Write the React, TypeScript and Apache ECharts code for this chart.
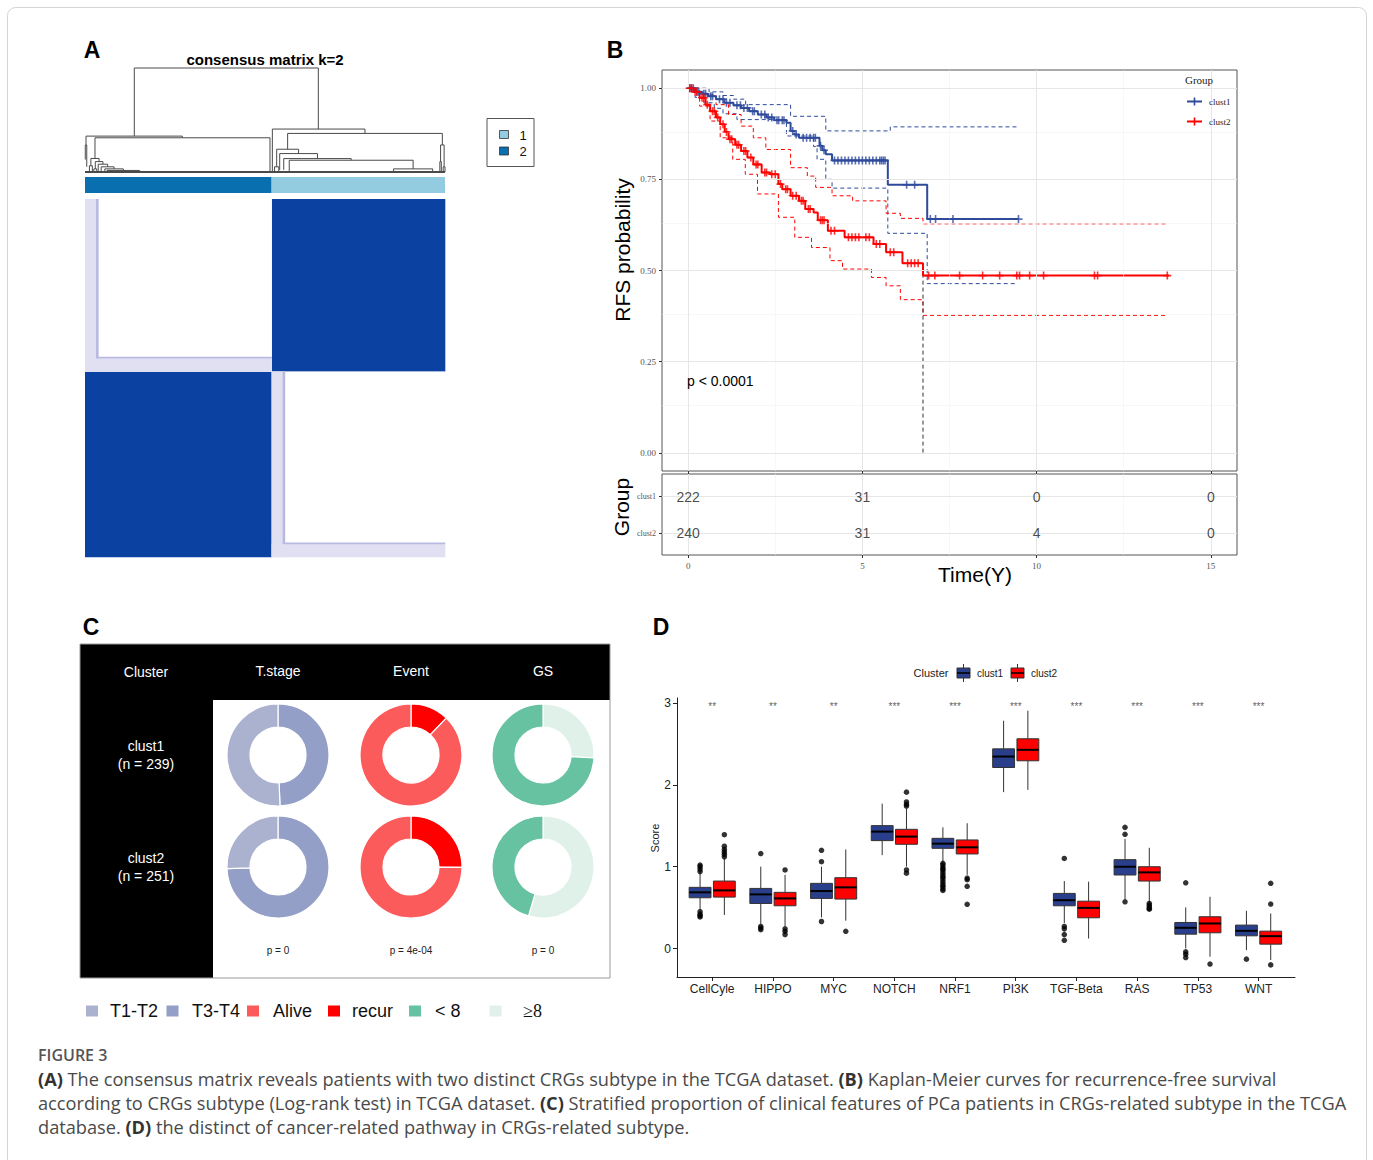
import React, { useEffect, useRef } from "react";
import * as echarts from "echarts";

const SANS = "'Liberation Sans', Arial, sans-serif";
const SERIF = "'Liberation Serif', 'Times New Roman', serif";
const CAPTION_FONT = "'Open Sans', 'Noto Sans', sans-serif";

// ================= Panel A : consensus matrix =================
const sampleCount = 490;
// dendrogram merges: [xLeft, xRight, mergeHeight, leftChildHeight, rightChildHeight]
const dendroNodes: number[][] = [
  [67.1, 317.6, 1.0, 0.345, 0.413],
  [1.4, 132.5, 0.345, 0.26, 0.329],
  [0.4, 2.4, 0.26, 0.12, 0.05],
  [13.6, 251.8, 0.329, 0.13, 0],
  [8, 19.2, 0.13, 0.06, 0.1],
  [6, 10, 0.06, 0, 0],
  [14, 24.4, 0.1, 0.03, 0.075],
  [12, 16, 0.03, 0, 0],
  [18, 30.8, 0.075, 0, 0.05],
  [22, 39.6, 0.05, 0, 0.03],
  [27, 52.2, 0.03, 0, 0.015],
  [30, 74.4, 0.015, 0, 0],
  [255, 381.1, 0.413, 0, 0.371],
  [275.8, 486.4, 0.371, 0.219, 0.26],
  [260.9, 290.7, 0.219, 0.05, 0.177],
  [258, 263.8, 0.05, 0, 0],
  [265, 316.4, 0.177, 0.02, 0.129],
  [270.5, 362.3, 0.129, 0.02, 0.113],
  [278, 446.6, 0.113, 0.01, 0.03],
  [420, 473.2, 0.03, 0, 0.01],
  [484, 488.8, 0.26, 0.1, 0.05],
  [483, 485, 0.1, 0, 0],
  [487.5, 490, 0.05, 0, 0],
  [0, 490, 0, 0, 0],
];
// annotation bar: [fromSample, toSample, cluster]
const annotationBlocks: number[][] = [
  [0, 254, 2],
  [254, 490, 1],
];
const clusterColors: Record<number, string> = { 1: "#93CBE0", 2: "#0A6FAE" };
const clusterLegend = ["1", "2"];
// consensus blocks: [colFrom, colTo, rowFrom, rowTo, level]
const consensusBlocks: number[][] = [
  [0, 254, 0, 254, 3],
  [254, 490, 254, 490, 3],
  [0, 254, 254, 490, 0],
  [254, 490, 0, 254, 0],
  [0, 18, 254, 490, 1],
  [0, 254, 254, 272, 1],
  [254, 272, 0, 254, 1],
  [254, 490, 0, 18, 1],
  [15, 18, 272, 490, 2],
  [18, 254, 272, 274, 2],
  [269, 272, 18, 254, 2],
  [272, 490, 18, 20, 2],
];
const consensusColors = ["#FFFFFF", "#E0E0F2", "#B9B9E2", "#0B41A0"];

// ================= Panel B : Kaplan-Meier =================
const kmClust1: number[][] = [
  [0, 1], [0.2, 0.99], [0.4, 0.985], [0.57, 0.978], [0.8, 0.97], [1.04, 0.96], [1.3, 0.953],
  [1.52, 0.946], [1.75, 0.937], [2.0, 0.928], [2.25, 0.92], [2.47, 0.912], [2.82, 0.905],
  [2.94, 0.883], [3.05, 0.873], [3.18, 0.864], [3.77, 0.842], [3.85, 0.83], [3.95, 0.819],
  [4.13, 0.802], [5.73, 0.735], [6.86, 0.641], [9.48, 0.641],
];
const kmClust2: number[][] = [
  [0, 1], [0.15, 0.99], [0.33, 0.974], [0.5, 0.955], [0.63, 0.937], [0.8, 0.92], [0.92, 0.901],
  [1.05, 0.88], [1.16, 0.86], [1.35, 0.845], [1.52, 0.828], [1.7, 0.81], [1.87, 0.791],
  [2.11, 0.769], [2.35, 0.764], [2.59, 0.737], [2.7, 0.723], [2.94, 0.705], [3.18, 0.691],
  [3.36, 0.669], [3.6, 0.659], [3.72, 0.638], [4.01, 0.609], [4.49, 0.591], [5.32, 0.573],
  [5.68, 0.55], [6.15, 0.52], [6.74, 0.486], [13.8, 0.486],
];
const ciClust1Upper: number[][] = [
  [0, 1], [0.6, 0.99], [1.0, 0.98], [1.3, 0.97], [1.65, 0.955], [2.94, 0.923], [3.95, 0.883],
  [5.8, 0.894], [9.48, 0.894],
];
const ciClust1Lower: number[][] = [
  [0, 1], [0.2, 0.975], [0.45, 0.96], [0.75, 0.945], [1.0, 0.93], [1.4, 0.914], [2.82, 0.869],
  [3.6, 0.84], [3.7, 0.805], [3.95, 0.75], [4.13, 0.726], [5.73, 0.602], [6.86, 0.464], [9.42, 0.464],
];
const ciClust2Upper: number[][] = [
  [0, 1], [0.33, 0.982], [0.8, 0.955], [1.16, 0.928], [1.52, 0.896], [1.87, 0.864], [2.23, 0.832],
  [2.94, 0.782], [3.42, 0.759], [3.66, 0.728], [4.13, 0.705], [4.72, 0.691], [5.68, 0.657],
  [6.09, 0.643], [6.74, 0.628], [13.76, 0.628],
];
const ciClust2Lower: number[][] = [
  [0, 1], [0.33, 0.951], [0.63, 0.91], [0.92, 0.864], [1.28, 0.805], [1.64, 0.764], [1.99, 0.71],
  [2.59, 0.646], [3.06, 0.591], [3.54, 0.563], [4.07, 0.527], [4.43, 0.504], [5.26, 0.481],
  [5.68, 0.458], [6.09, 0.42], [6.74, 0.377], [13.76, 0.377],
];
const censorClust1 = [
  0.05, 0.1, 0.15, 0.25, 0.3, 0.45, 0.5, 0.65, 0.7, 0.9, 1.0, 1.1, 1.2, 1.4, 1.5, 1.6, 1.7, 1.85,
  1.9, 2.1, 2.2, 2.3, 2.4, 2.55, 2.6, 2.7, 2.75, 3.0, 3.1, 3.3, 3.4, 3.5, 3.6, 3.65, 3.8, 3.9,
  4.2, 4.3, 4.4, 4.5, 4.6, 4.7, 4.8, 4.9, 5.0, 5.1, 5.2, 5.3, 5.4, 5.5, 5.55, 5.6, 5.65, 6.27,
  6.5, 6.95, 7.1, 7.6, 9.48,
];
const censorClust2 = [
  0.05, 0.1, 0.2, 0.25, 0.4, 0.45, 0.55, 0.7, 0.75, 0.85, 1.0, 1.1, 1.2, 1.25, 1.4, 1.45, 1.6,
  1.65, 1.8, 1.95, 2.0, 2.2, 2.25, 2.4, 2.5, 2.65, 2.8, 2.85, 3.0, 3.1, 3.25, 3.3, 3.45, 3.5,
  3.8, 3.85, 3.9, 4.1, 4.2, 4.6, 4.7, 4.8, 4.9, 5.1, 5.2, 5.4, 5.5, 5.8, 5.9, 6.3, 6.4, 6.5,
  6.6, 6.9, 7.08, 7.79, 8.45, 8.94, 9.43, 9.51, 9.8, 10.2, 11.66, 11.75, 13.75,
];
const medianSurvivalTime = 6.74;
const riskTimes = [0, 5, 10, 15];
const riskClust1 = [222, 31, 0, 0];
const riskClust2 = [240, 31, 4, 0];
const kmXTicks = [0, 5, 10, 15];
const kmXMinor = [2.5, 7.5, 12.5];
const kmYTicks = [0, 0.25, 0.5, 0.75, 1];
const kmYMinor = [0.125, 0.375, 0.625, 0.875];
const riskRows = [1, 2];
const riskRowNames: Record<number, string> = { 1: "clust2", 2: "clust1" };

// ================= Panel C : donuts =================
const donutColumns = ["T.stage", "Event", "GS"];
const donutRowLabels = ["clust1\n(n = 239)", "clust2\n(n = 251)"];
const tStageLevels = ["T3-T4", "T1-T2"];
const tStageClust1 = [118, 121];
const tStageClust2 = [187, 64];
const eventLevels = ["recur", "Alive"];
const eventClust1 = [29, 210];
const eventClust2 = [63, 188];
const gsLevels = ["≥8", "< 8"];
const gsClust1 = [62, 177];
const gsClust2 = [137, 114];
const levelColors: Record<string, string> = {
  "T1-T2": "#ABB2D0",
  "T3-T4": "#939FC6",
  Alive: "#FC5B5B",
  recur: "#FF0000",
  "< 8": "#66C2A0",
  "≥8": "#E0F1EA",
};
const donutPValues = ["p = 0", "p = 4e-04", "p = 0"];
const legendCLabels = ["T1-T2", "T3-T4", "Alive", "recur", "< 8", "≥8"];

// ================= Panel D : boxplots =================
const pathways = ["CellCyle", "HIPPO", "MYC", "NOTCH", "NRF1", "PI3K", "TGF-Beta", "RAS", "TP53", "WNT"];
const significance = ["**", "**", "**", "***", "***", "***", "***", "***", "***", "***"];
// [lowerWhisker, Q1, median, Q3, upperWhisker]
const boxClust1: number[][] = [
  [0.47, 0.62, 0.686, 0.747, 0.93],
  [0.3, 0.55, 0.661, 0.734, 1.0],
  [0.38, 0.612, 0.702, 0.796, 1.0],
  [1.14, 1.318, 1.428, 1.501, 1.77],
  [1.06, 1.224, 1.281, 1.346, 1.48],
  [1.91, 2.211, 2.345, 2.439, 2.782],
  [0.31, 0.522, 0.59, 0.673, 0.824],
  [0.6, 0.898, 0.999, 1.085, 1.338],
  [0.0, 0.175, 0.253, 0.318, 0.502],
  [-0.02, 0.155, 0.216, 0.286, 0.461],
];
const boxClust2: number[][] = [
  [0.41, 0.628, 0.71, 0.824, 1.1],
  [0.27, 0.522, 0.612, 0.686, 0.9],
  [0.34, 0.604, 0.747, 0.865, 1.21],
  [1.0, 1.273, 1.367, 1.456, 1.71],
  [0.9, 1.155, 1.236, 1.326, 1.53],
  [1.938, 2.293, 2.427, 2.562, 2.905],
  [0.122, 0.375, 0.496, 0.578, 0.816],
  [0.57, 0.824, 0.93, 0.999, 1.23],
  [-0.1, 0.192, 0.306, 0.388, 0.632],
  [-0.14, 0.053, 0.151, 0.212, 0.428],
];
const outliersClust1: number[][] = [
  [0.94, 0.97, 1.0, 1.02, 0.45, 0.42, 0.4, 0.385],
  [1.16, 0.27, 0.25, 0.23],
  [1.06, 1.2, 0.33],
  [],
  [1.04, 1.02, 0.99, 0.97, 0.95, 0.92, 0.89, 0.87, 0.84, 0.81, 0.78, 0.76, 0.73, 0.71],
  [],
  [1.1, 0.27, 0.24, 0.17, 0.1],
  [1.48, 1.395, 0.571],
  [0.803, -0.04, -0.07, -0.11],
  [-0.13],
];
const outliersClust2: number[][] = [
  [1.12, 1.15, 1.18, 1.21, 1.25, 1.39],
  [0.96, 0.24, 0.21, 0.17],
  [0.21],
  [1.74, 1.76, 1.79, 1.91, 0.96, 0.92],
  [0.86, 0.84, 0.76, 0.54],
  [],
  [],
  [0.55, 0.53, 0.51, 0.49, 0.48],
  [-0.19],
  [0.543, 0.796, -0.2],
];
const scoreTicks = [0, 1, 2, 3];
const clusterNames = ["clust1", "clust2"];

// ================= styling constants =================
const KM_BLUE = "#2E4A9B";
const KM_RED = "#FF0000";
const BOX_BLUE = "#2A3F8C";
const BOX_RED = "#FF0000";
const DODGE = 0.2;
const BOX_HALF = 0.18;
const PLUS = "path://M4,0h2v4h4v2h-4v4h-2v-4h-4v-2h4z";

function stepAt(curve: number[][], t: number) {
  let s = curve[0][1];
  for (const [ti, si] of curve) {
    if (ti <= t) s = si;
    else break;
  }
  return s;
}

function txt(x: number, y: number, s: string, o: any = {}) {
  const align = o.align ?? "center";
  const valign = o.valign ?? "middle";
  return {
    type: "text",
    x,
    y,
    z: 50,
    rotation: o.rotation ?? 0,
    silent: true,
    style: {
      text: s,
      fill: o.color ?? "#000",
      fontSize: o.size ?? 12,
      fontFamily: o.font ?? SANS,
      fontWeight: o.weight ?? "normal",
      align,
      verticalAlign: valign,
      textAlign: align,
      textVerticalAlign: valign,
      lineHeight: o.lineHeight,
      rich: o.rich,
    },
  };
}

function buildOption() {
  const noAxis = { show: false };
  const valAxis = (gridIndex: number, min: number, max: number, extra: any = {}) => ({
    type: "value",
    gridIndex,
    min,
    max,
    splitLine: { show: false },
    axisLine: { show: false, onZero: false },
    axisTick: { show: false },
    axisLabel: { show: false },
    ...extra,
  });

  const grid = [
    { left: 85, top: 68, width: 360, height: 104 },
    { left: 85, top: 177, width: 360, height: 16 },
    { left: 85, top: 199, width: 360, height: 358 },
    { left: 662, top: 70, width: 575, height: 401, show: true, borderColor: "#555", borderWidth: 1, backgroundColor: "transparent" },
    { left: 662, top: 474, width: 575, height: 81, show: true, borderColor: "#555", borderWidth: 1, backgroundColor: "transparent" },
    { left: 677, top: 698, width: 618, height: 279 },
  ].map((g) => ({ ...g, containLabel: false, outerBoundsMode: "none" }));

  const pathIdx = pathways.map((_, i) => i);

  const xAxis = [
    { ...valAxis(0, 0, sampleCount), ...noAxis },
    { ...valAxis(1, 0, sampleCount), ...noAxis },
    { ...valAxis(2, 0, sampleCount), ...noAxis },
    valAxis(3, -0.75, 15.75, {
      axisTick: { show: true, customValues: kmXTicks, length: 3, lineStyle: { color: "#333" } },
    }),
    valAxis(4, -0.75, 15.75, {
      axisTick: { show: true, customValues: kmXTicks, length: 3, lineStyle: { color: "#333" } },
      axisLabel: { show: true, customValues: kmXTicks, fontFamily: SERIF, fontSize: 9, color: "#555", margin: 6 },
    }),
    valAxis(5, -0.58, 9.6, {
      axisLine: { show: true, onZero: false, lineStyle: { color: "#222", width: 1 } },
      axisTick: { show: true, customValues: pathIdx, length: 4, lineStyle: { color: "#222" } },
      axisLabel: {
        show: true,
        customValues: pathIdx,
        formatter: (v: number) => pathways[Math.round(v)] ?? "",
        fontFamily: SANS,
        fontSize: 12,
        color: "#222",
        margin: 6,
      },
    }),
  ];

  const yAxis = [
    { ...valAxis(0, 0, 1), ...noAxis },
    { ...valAxis(1, 0, 1), ...noAxis },
    { ...valAxis(2, 0, sampleCount), ...noAxis },
    valAxis(3, -0.05, 1.05, {
      axisTick: { show: true, customValues: kmYTicks, length: 3, lineStyle: { color: "#333" } },
      axisLabel: {
        show: true,
        customValues: kmYTicks,
        formatter: (v: number) => v.toFixed(2),
        fontFamily: SERIF,
        fontSize: 9,
        color: "#555",
        margin: 6,
      },
    }),
    valAxis(4, 0.41, 2.62, {
      axisTick: { show: true, customValues: riskRows, length: 3, lineStyle: { color: "#333" } },
      axisLabel: {
        show: true,
        customValues: riskRows,
        formatter: (v: number) => riskRowNames[Math.round(v)] ?? "",
        fontFamily: SERIF,
        fontSize: 8,
        color: "#555",
        margin: 6,
      },
    }),
    valAxis(5, -0.348, 3.06, {
      axisLine: { show: true, onZero: false, lineStyle: { color: "#222", width: 1 } },
      axisTick: { show: true, customValues: scoreTicks, length: 4, lineStyle: { color: "#222" } },
      axisLabel: { show: true, customValues: scoreTicks, fontFamily: SANS, fontSize: 12, color: "#222", margin: 6 },
    }),
  ];

  const series: any[] = [];

  // ---- Panel A ----
  series.push({
    type: "custom",
    xAxisIndex: 0,
    yAxisIndex: 0,
    silent: true,
    clip: false,
    data: dendroNodes,
    renderItem: (_p: any, api: any) => {
      const xl = api.value(0), xr = api.value(1), h = api.value(2), hl = api.value(3), hr = api.value(4);
      const pts = [api.coord([xl, hl]), api.coord([xl, h]), api.coord([xr, h]), api.coord([xr, hr])];
      return {
        type: "polyline",
        shape: { points: pts },
        style: { stroke: "#4a4a4a", lineWidth: h === 0 ? 2 : 1, fill: "none" },
      };
    },
  });
  series.push({
    type: "custom",
    xAxisIndex: 1,
    yAxisIndex: 1,
    silent: true,
    data: annotationBlocks,
    renderItem: (_p: any, api: any) => {
      const a = api.coord([api.value(0), 1]);
      const b = api.coord([api.value(1), 0]);
      return {
        type: "rect",
        shape: { x: a[0], y: a[1], width: b[0] - a[0], height: b[1] - a[1] },
        style: { fill: clusterColors[api.value(2)] },
      };
    },
  });
  series.push({
    type: "custom",
    xAxisIndex: 2,
    yAxisIndex: 2,
    silent: true,
    data: consensusBlocks,
    renderItem: (_p: any, api: any) => {
      const a = api.coord([api.value(0), api.value(3)]);
      const b = api.coord([api.value(1), api.value(2)]);
      return {
        type: "rect",
        shape: { x: a[0], y: a[1], width: b[0] - a[0] + 0.3, height: b[1] - a[1] + 0.3 },
        style: { fill: consensusColors[api.value(4)] },
      };
    },
  });

  // ---- Panel B: gridlines ----
  const major = { color: "#E6E6E6", width: 1, type: "solid" };
  const minor = { color: "#F2F2F2", width: 0.6, type: "solid" };
  series.push({
    type: "line",
    xAxisIndex: 3,
    yAxisIndex: 3,
    data: [[0, 2]],
    symbol: "none",
    lineStyle: { opacity: 0 },
    silent: true,
    z: 1,
    markLine: {
      silent: true,
      symbol: ["none", "none"],
      label: { show: false },
      animation: false,
      data: [
        ...kmXMinor.map((v) => ({ xAxis: v, lineStyle: minor })),
        ...kmYMinor.map((v) => ({ yAxis: v, lineStyle: minor })),
        ...kmXTicks.map((v) => ({ xAxis: v, lineStyle: major })),
        ...kmYTicks.map((v) => ({ yAxis: v, lineStyle: major })),
      ],
    },
  });
  series.push({
    type: "line",
    xAxisIndex: 4,
    yAxisIndex: 4,
    data: [[0, 5]],
    symbol: "none",
    lineStyle: { opacity: 0 },
    silent: true,
    z: 1,
    markLine: {
      silent: true,
      symbol: ["none", "none"],
      label: { show: false },
      animation: false,
      data: [
        ...kmXMinor.map((v) => ({ xAxis: v, lineStyle: minor })),
        ...kmXTicks.map((v) => ({ xAxis: v, lineStyle: major })),
        ...riskRows.map((v) => ({ yAxis: v, lineStyle: major })),
      ],
    },
  });

  const ciLine = (data: number[][], color: string) => ({
    type: "line",
    xAxisIndex: 3,
    yAxisIndex: 3,
    step: "end",
    symbol: "none",
    silent: true,
    data,
    lineStyle: { color, width: 1, type: [4, 3] },
    z: 3,
  });
  series.push(ciLine(ciClust1Upper, KM_BLUE));
  series.push(ciLine(ciClust1Lower, KM_BLUE));
  series.push(ciLine(ciClust2Upper, KM_RED));
  series.push(ciLine(ciClust2Lower, KM_RED));
  series.push({
    type: "line",
    xAxisIndex: 3,
    yAxisIndex: 3,
    symbol: "none",
    silent: true,
    data: [
      [0, 0.5],
      [medianSurvivalTime, 0.5],
      [medianSurvivalTime, 0],
    ],
    lineStyle: { color: "#333", width: 1, type: [4, 3] },
    z: 3,
  });
  const kmLine = (data: number[][], color: string) => ({
    type: "line",
    xAxisIndex: 3,
    yAxisIndex: 3,
    step: "end",
    symbol: "none",
    silent: true,
    data,
    lineStyle: { color, width: 2 },
    z: 4,
  });
  series.push(kmLine(kmClust1, KM_BLUE));
  series.push(kmLine(kmClust2, KM_RED));
  const censor = (times: number[], curve: number[][], color: string) => ({
    type: "scatter",
    xAxisIndex: 3,
    yAxisIndex: 3,
    silent: true,
    symbol: PLUS,
    symbolSize: 8,
    itemStyle: { color },
    data: times.map((t) => [t, stepAt(curve, t)]),
    z: 5,
  });
  series.push(censor(censorClust1, kmClust1, KM_BLUE));
  series.push(censor(censorClust2, kmClust2, KM_RED));

  const riskData: any[] = [];
  riskTimes.forEach((t, i) => {
    riskData.push([t, 2, riskClust1[i]]);
    riskData.push([t, 1, riskClust2[i]]);
  });
  series.push({
    type: "scatter",
    xAxisIndex: 4,
    yAxisIndex: 4,
    silent: true,
    symbolSize: 1,
    itemStyle: { color: "rgba(0,0,0,0)" },
    data: riskData,
    label: {
      show: true,
      position: "inside",
      formatter: (p: any) => String(p.value[2]),
      fontFamily: SANS,
      fontSize: 14,
      color: "#1a1a1a",
    },
    z: 5,
  });

  // ---- Panel D ----
  const boxSeries = (boxes: number[][], offset: number, color: string) => ({
    type: "custom",
    xAxisIndex: 5,
    yAxisIndex: 5,
    silent: true,
    data: boxes.map((b, i) => [i, ...b]),
    renderItem: (_p: any, api: any) => {
      const cx = api.value(0) + offset;
      const lo = api.value(1), q1 = api.value(2), md = api.value(3), q3 = api.value(4), hi = api.value(5);
      const tl = api.coord([cx - BOX_HALF, q3]);
      const br = api.coord([cx + BOX_HALF, q1]);
      const pLo = api.coord([cx, lo]);
      const pQ1 = api.coord([cx, q1]);
      const pQ3 = api.coord([cx, q3]);
      const pHi = api.coord([cx, hi]);
      const mL = api.coord([cx - BOX_HALF, md]);
      const mR = api.coord([cx + BOX_HALF, md]);
      const ws = { stroke: "#333", lineWidth: 1 };
      return {
        type: "group",
        children: [
          { type: "line", shape: { x1: pLo[0], y1: pLo[1], x2: pQ1[0], y2: pQ1[1] }, style: ws },
          { type: "line", shape: { x1: pQ3[0], y1: pQ3[1], x2: pHi[0], y2: pHi[1] }, style: ws },
          {
            type: "rect",
            shape: { x: tl[0], y: tl[1], width: br[0] - tl[0], height: br[1] - tl[1] },
            style: { fill: color, stroke: "#333", lineWidth: 1 },
          },
          { type: "line", shape: { x1: mL[0], y1: mL[1], x2: mR[0], y2: mR[1] }, style: { stroke: "#000", lineWidth: 2 } },
        ],
      };
    },
    z: 3,
  });
  series.push(boxSeries(boxClust1, -DODGE, BOX_BLUE));
  series.push(boxSeries(boxClust2, DODGE, BOX_RED));
  const outlierSeries = (out: number[][], offset: number) => {
    const data: number[][] = [];
    out.forEach((vals, i) => vals.forEach((v) => data.push([i + offset, v])));
    return {
      type: "scatter",
      xAxisIndex: 5,
      yAxisIndex: 5,
      silent: true,
      symbolSize: 5.5,
      itemStyle: { color: "#000" },
      data,
      z: 4,
    };
  };
  series.push(outlierSeries(outliersClust1, -DODGE));
  series.push(outlierSeries(outliersClust2, DODGE));
  series.push({
    type: "scatter",
    xAxisIndex: 5,
    yAxisIndex: 5,
    silent: true,
    symbolSize: 1,
    itemStyle: { color: "rgba(0,0,0,0)" },
    data: significance.map((s, i) => [i, 2.96, s]),
    label: {
      show: true,
      position: "inside",
      formatter: (p: any) => p.value[2],
      fontFamily: SANS,
      fontSize: 10,
      color: "#333",
    },
  });

  // ---- Panel C donuts ----
  const colX = [278, 411, 543];
  const rowY = [755, 867];
  const donutSets = [
    [tStageLevels, tStageClust1, tStageClust2],
    [eventLevels, eventClust1, eventClust2],
    [gsLevels, gsClust1, gsClust2],
  ] as any[];
  donutSets.forEach((set, c) => {
    const levels: string[] = set[0];
    [set[1], set[2]].forEach((vals: number[], r: number) => {
      series.push({
        type: "pie",
        center: [colX[c], rowY[r]],
        radius: [28, 51],
        startAngle: 90,
        clockwise: true,
        silent: true,
        label: { show: false },
        labelLine: { show: false },
        itemStyle: { borderColor: "#fff", borderWidth: 1.2 },
        data: levels.map((l, k) => ({ name: l, value: vals[k], itemStyle: { color: levelColors[l] } })),
        z: 5,
      });
    });
  });

  // ---- graphics ----
  const g: any[] = [];
  g.push({
    type: "rect",
    z: 0,
    silent: true,
    shape: { x: 7.5, y: 7.5, width: 1359, height: 1175, r: 8 },
    style: { fill: "none", stroke: "#D4D4D4", lineWidth: 1 },
  });
  g.push(txt(92, 50, "A", { size: 23, weight: "bold" }));
  g.push(txt(615, 50, "B", { size: 23, weight: "bold" }));
  g.push(txt(91, 627, "C", { size: 23, weight: "bold" }));
  g.push(txt(661, 627, "D", { size: 23, weight: "bold" }));

  g.push(txt(265, 59, "consensus matrix k=2", { size: 15, weight: "bold" }));
  g.push({
    type: "rect",
    z: 50,
    silent: true,
    shape: { x: 487, y: 118.5, width: 47, height: 48 },
    style: { fill: "#fff", stroke: "#555", lineWidth: 1 },
  });
  clusterLegend.forEach((lab, i) => {
    g.push({
      type: "rect",
      z: 51,
      silent: true,
      shape: { x: 499.5, y: 130.5 + i * 16.5, width: 9, height: 8 },
      style: { fill: clusterColors[Number(lab)], stroke: "#333", lineWidth: 0.8 },
    });
    g.push(txt(523, 135 + i * 16.5, lab, { size: 13, color: "#111" }));
  });

  g.push(txt(622, 250, "RFS probability", { size: 21, rotation: Math.PI / 2 }));
  g.push(txt(621, 507, "Group", { size: 21, rotation: Math.PI / 2 }));
  g.push(txt(975, 574, "Time(Y)", { size: 21 }));
  g.push(txt(687, 381, "p < 0.0001", { size: 14, align: "left" }));
  g.push(txt(1185, 80, "Group", { size: 11, font: SERIF, align: "left", color: "#222" }));
  [KM_BLUE, KM_RED].forEach((col, i) => {
    const y = 101.5 + i * 20;
    g.push({ type: "line", z: 51, silent: true, shape: { x1: 1187, y1: y, x2: 1202, y2: y }, style: { stroke: col, lineWidth: 2 } });
    g.push({ type: "line", z: 51, silent: true, shape: { x1: 1194.5, y1: y - 4, x2: 1194.5, y2: y + 4 }, style: { stroke: col, lineWidth: 1.6 } });
    g.push(txt(1209, y, clusterNames[i], { size: 9, font: SERIF, align: "left", color: "#222" }));
  });

  g.push({ type: "rect", z: 0, silent: true, shape: { x: 80, y: 644, width: 530, height: 334 }, style: { fill: "#000" } });
  g.push({ type: "rect", z: 0, silent: true, shape: { x: 213, y: 700, width: 397, height: 278 }, style: { fill: "#fff" } });
  g.push({
    type: "rect",
    z: 1,
    silent: true,
    shape: { x: 80, y: 644, width: 530, height: 334 },
    style: { fill: "none", stroke: "#999", lineWidth: 1 },
  });
  g.push(txt(146, 672, "Cluster", { size: 14, color: "#fff" }));
  donutColumns.forEach((c, i) => g.push(txt(colX[i], 671, c, { size: 14, color: "#fff" })));
  donutRowLabels.forEach((r, i) => g.push(txt(146, rowY[i], r, { size: 14, color: "#fff", lineHeight: 18 })));
  donutPValues.forEach((p, i) => g.push(txt(colX[i], 950, p, { size: 10, color: "#222" })));
  const legendX = [86, 166.5, 247, 328, 409, 489.5];
  const legendTextX = [110, 192, 273, 352, 435, 523];
  legendCLabels.forEach((lab, i) => {
    g.push({
      type: "rect",
      z: 50,
      silent: true,
      shape: { x: legendX[i], y: 1005.5, width: 12, height: 11 },
      style: { fill: levelColors[lab] },
    });
    g.push(
      txt(legendTextX[i], 1011, lab, {
        size: 18,
        align: "left",
        color: "#111",
        font: lab === "≥8" ? SERIF : SANS,
      })
    );
  });

  g.push(txt(655, 838, "Score", { size: 11, rotation: Math.PI / 2, color: "#222" }));
  g.push(txt(931, 673, "Cluster", { size: 11, color: "#222" }));
  [BOX_BLUE, BOX_RED].forEach((col, i) => {
    const x0 = 957 + i * 54;
    g.push({ type: "line", z: 51, silent: true, shape: { x1: x0 + 6.5, y1: 664, x2: x0 + 6.5, y2: 682 }, style: { stroke: "#333", lineWidth: 1 } });
    g.push({ type: "rect", z: 52, silent: true, shape: { x: x0, y: 668, width: 13, height: 10 }, style: { fill: col, stroke: "#333", lineWidth: 1 } });
    g.push({ type: "line", z: 53, silent: true, shape: { x1: x0, y1: 673, x2: x0 + 13, y2: 673 }, style: { stroke: "#000", lineWidth: 1.5 } });
    g.push(txt(x0 + 20, 673, clusterNames[i], { size: 10, align: "left", color: "#222" }));
  });

  const capSize = 18.2;
  const rich = { b: { fontWeight: "bold", fontFamily: CAPTION_FONT, fontSize: capSize, fill: "#333" } };
  g.push(txt(38, 1055, "FIGURE 3", { size: 16, align: "left", color: "#555", font: CAPTION_FONT, weight: 600 }));
  const captionLines = [
    "{b|(A)} The consensus matrix reveals patients with two distinct CRGs subtype in the TCGA dataset. {b|(B)} Kaplan-Meier curves for recurrence-free survival",
    "according to CRGs subtype (Log-rank test) in TCGA dataset. {b|(C)} Stratified proportion of clinical features of PCa patients in CRGs-related subtype in the TCGA",
    "database. {b|(D)} the distinct of cancer-related pathway in CRGs-related subtype.",
  ];
  captionLines.forEach((l, i) =>
    g.push(txt(38, 1079 + i * 24, l, { size: capSize, align: "left", color: "#4a4a4a", font: CAPTION_FONT, rich }))
  );

  return {
    animation: false,
    backgroundColor: "#ffffff",
    grid,
    xAxis,
    yAxis,
    series,
    graphic: { elements: g },
  };
}

export default function App() {
  const ref = useRef<HTMLDivElement>(null);
  useEffect(() => {
    if (!ref.current) return;
    const chart = echarts.init(ref.current, undefined, { renderer: "svg" });
    chart.setOption(buildOption() as any);
    return () => chart.dispose();
  }, []);
  return (
    <div
      ref={ref}
      style={{ position: "absolute", left: 0, top: 0, width: 1373, height: 1160, background: "#fff" }}
    />
  );
}
